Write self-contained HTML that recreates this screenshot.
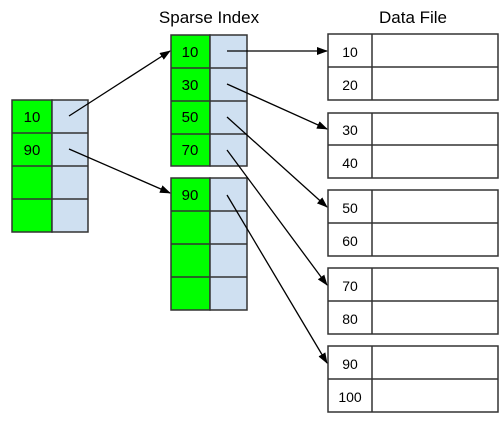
<!DOCTYPE html>
<html><head><style>body{margin:0;background:#fff}</style></head><body>
<svg width="504" height="418" xmlns="http://www.w3.org/2000/svg" font-family="Liberation Sans, Arial, sans-serif">
<defs><marker id="a" markerWidth="11" markerHeight="8" refX="10" refY="4" orient="auto" markerUnits="userSpaceOnUse"><path d="M0,0 L11,4 L0,8 z" fill="#000"/></marker></defs>
<text x="209" y="23" font-size="17" text-anchor="middle">Sparse Index</text>
<text x="413" y="23" font-size="17" text-anchor="middle">Data File</text>
<g stroke="#333" stroke-width="1.5">
<rect x="12" y="100" width="40" height="132" fill="#00ff00"/><rect x="52" y="100" width="36" height="132" fill="#cfe0f1"/>
<path d="M12 133H88M12 166H88M12 199H88" fill="none"/>
<rect x="171" y="35" width="39" height="131" fill="#00ff00"/><rect x="210" y="35" width="37" height="131" fill="#cfe0f1"/>
<path d="M171 68H247M171 101H247M171 134H247" fill="none"/>
<rect x="171" y="178" width="39" height="132" fill="#00ff00"/><rect x="210" y="178" width="37" height="132" fill="#cfe0f1"/>
<path d="M171 211H247M171 244H247M171 277H247" fill="none"/>
<g fill="#fff">
<rect x="328" y="34" width="170" height="66"/><rect x="328" y="113" width="170" height="65"/><rect x="328" y="190" width="170" height="66"/><rect x="328" y="268" width="170" height="66"/><rect x="328" y="346" width="170" height="66"/>
</g>
<path d="M372 34V100M328 67H498M372 113V178M328 145H498M372 190V256M328 223H498M372 268V334M328 301H498M372 346V412M328 379H498" fill="none"/>
</g>
<g font-size="15" text-anchor="middle">
<text x="32" y="122">10</text><text x="32" y="155">90</text>
<text x="190" y="57">10</text><text x="190" y="90">30</text><text x="190" y="122">50</text><text x="190" y="155">70</text><text x="190" y="200">90</text>
<g font-size="14"><text x="350" y="57">10</text><text x="350" y="90">20</text><text x="350" y="135">30</text><text x="350" y="168">40</text><text x="350" y="213">50</text><text x="350" y="246">60</text><text x="350" y="291">70</text><text x="350" y="324">80</text><text x="350" y="369">90</text><text x="350" y="402">100</text></g>
</g>
<g stroke="#000" stroke-width="1.3" marker-end="url(#a)">
<line x1="69" y1="116" x2="170" y2="51"/><line x1="69" y1="149" x2="170" y2="193"/>
<line x1="227" y1="51" x2="327" y2="51"/><line x1="227" y1="84" x2="327" y2="129"/>
<line x1="227" y1="117" x2="327" y2="207"/><line x1="227" y1="150" x2="327" y2="285"/>
<line x1="227" y1="195" x2="327" y2="363"/>
</g>
</svg>
</body></html>
